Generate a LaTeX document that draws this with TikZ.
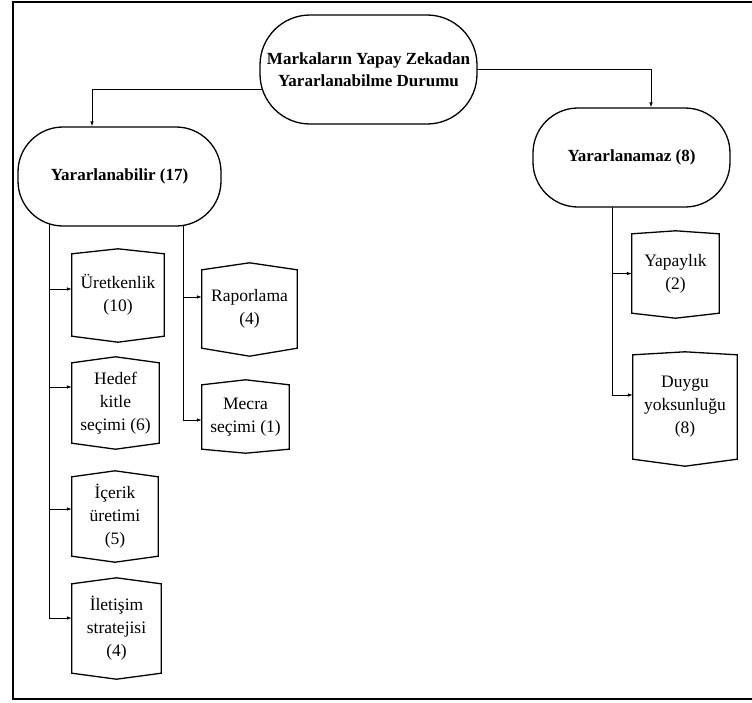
\documentclass[tikz,border=0pt]{standalone}
\usepackage{fontspec}
\setmainfont{Liberation Serif}
\usetikzlibrary{arrows.meta}
\pgfdeclarelayer{bg}
\pgfsetlayers{bg,main}
\begin{document}
\begin{tikzpicture}[x=1pt,y=-1pt,
  stadium/.style={draw, line width=1.3pt, fill=white, rounded corners=45pt, inner sep=0pt, align=center,
    font=\fontsize{17}{22}\selectfont\bfseries},
  hexnode/.style={inner sep=0pt, align=center, font=\fontsize{17.5}{23}\selectfont},
  hexline/.style={line width=1.3pt, line join=miter},
  arr/.style={line width=0.8pt, -{Latex[length=5pt,width=3.6pt]}},
  conn/.style={line width=0.8pt}]
\useasboundingbox (0,0) rectangle (752,702);
\draw[line width=2pt] (770,2) -- (13,2) -- (13,699) -- (770,699);

% top level
\node[stadium, rounded corners=50pt, minimum width=217pt, minimum height=109pt] (main) at (368.5,69.5)
  {Markaların Yapay Zekadan\\Yararlanabilme Durumu};
\node[stadium, minimum width=203pt, minimum height=99pt] (ya) at (119.5,176.5) {Yararlanabilir (17)};
\node[stadium, minimum width=197pt, minimum height=99pt] (yn) at (631.5,157.5) {Yararlanamaz (8)};

% hexagon boxes
\node[hexnode, minimum width=92pt, minimum height=82pt] (u) at (118,295) {Üretkenlik\\(10)};
\node[hexnode, minimum width=87pt, minimum height=80pt] (h) at (115.5,403) {Hedef\\kitle\\seçimi (6)};
\node[hexnode, minimum width=86pt, minimum height=79pt] (ic) at (115,516.5) {İçerik\\üretimi\\(5)};
\node[hexnode, minimum width=89pt, minimum height=89pt] (il) at (116.5,628.5) {İletişim\\stratejisi\\(4)};
\node[hexnode, minimum width=95pt, minimum height=78pt] (r) at (249.5,309) {Raporlama\\(4)};
\node[hexnode, minimum width=87pt, minimum height=64pt] (m) at (245.5,417) {Mecra\\seçimi (1)};
\node[hexnode, minimum width=87pt, minimum height=79pt] (yp) at (675.5,273.5) {Yapaylık\\(2)};
\node[hexnode, minimum width=104pt, minimum height=104pt] (d) at (685,407) {Duygu\\yoksunluğu\\(8)};

\foreach \n/\pt/\pb in {u/5/6, h/6/6, ic/6/6, il/6/6, r/7/8, m/5/4, yp/3/5, d/3/7}
  \draw[hexline] (\n.north west) -- ([yshift=\pt pt]\n.north) -- (\n.north east)
    -- (\n.south east) -- ([yshift=-\pb pt]\n.south) -- (\n.south west) -- cycle;

\begin{pgfonlayer}{bg}
  \draw[arr] ([yshift=-19.5pt]main.center) -| ([xshift=-27.5pt]ya.north);
  \draw[arr] (main.center) -| ([xshift=19.5pt]yn.north);
  % left column
  \draw[arr] ([xshift=-70.5pt]ya.center) |- ([yshift=6pt]u.west);
  \draw[arr] ([xshift=-70.5pt]ya.center) |- ([yshift=16pt]h.west);
  \draw[arr] ([xshift=-70.5pt]ya.center) |- ([yshift=7.5pt]ic.west);
  \draw[arr] ([xshift=-70.5pt]ya.center) |- ([yshift=10.5pt]il.west);
  % middle column
  \draw[arr] ([xshift=63.5pt]ya.center) |- ([yshift=12pt]r.west);
  \draw[arr] ([xshift=63.5pt]ya.center) |- ([yshift=-3pt]m.west);
  % right column
  \draw[arr] ([xshift=-19.5pt]yn.center) |- (yp.west);
  \draw[arr] ([xshift=-19.5pt]yn.center) |- ([yshift=12pt]d.west);
\end{pgfonlayer}
\end{tikzpicture}
\end{document}
